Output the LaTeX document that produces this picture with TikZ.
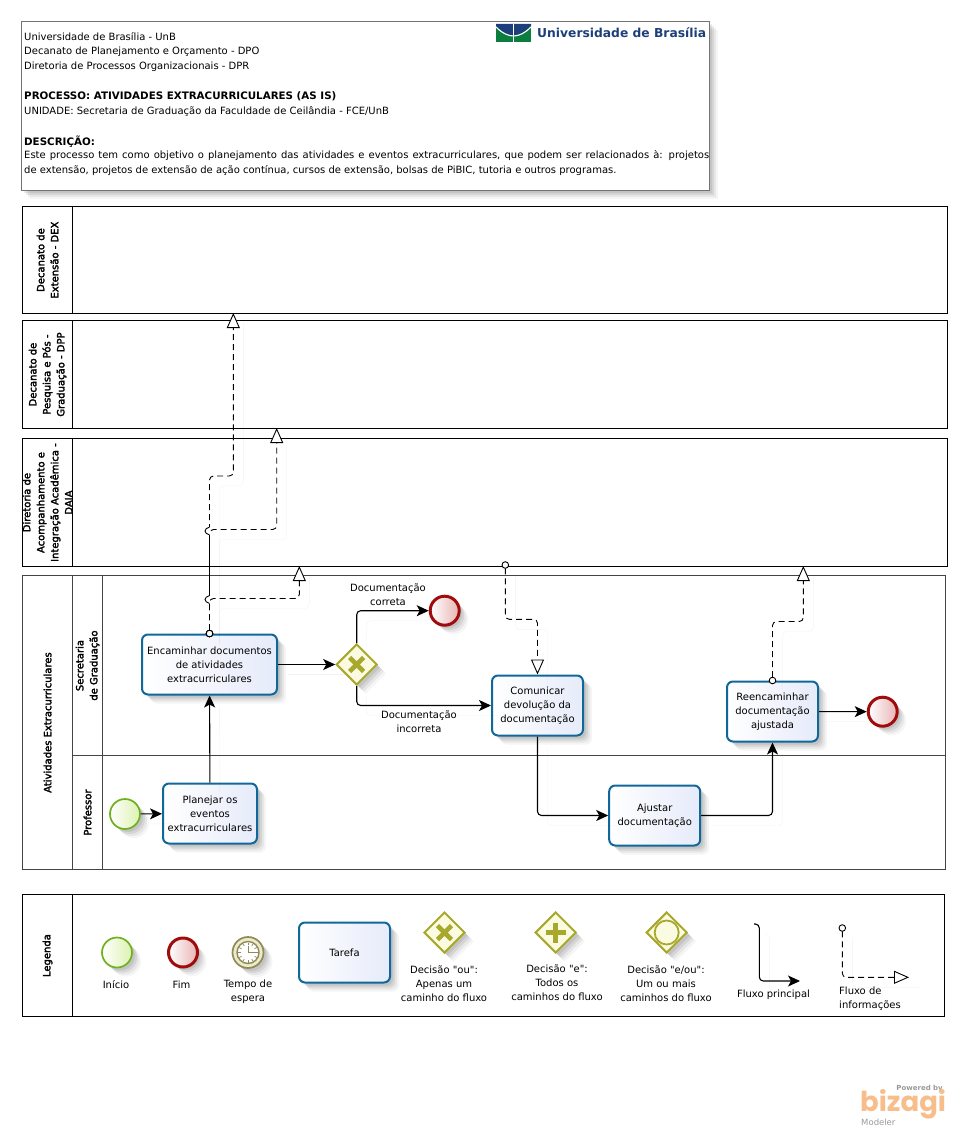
\documentclass[tikz,border=0pt]{standalone}
\usepackage{xcolor}
\usepackage{fontspec}
\setmainfont{DejaVu Sans}
\newfontfamily\plainfont{DejaVu Sans}
\newfontfamily\lanefont[FakeBold=2.5]{DejaVu Sans}
\newfontfamily\bizfont{Poppins}
\usepackage{tikz}
\usetikzlibrary{shapes.geometric}
\usetikzlibrary{arrows.meta}
\usetikzlibrary{shadows}
\definecolor{taskline}{HTML}{10689A}
\definecolor{taskfill}{HTML}{E6EBFA}
\definecolor{endline}{HTML}{A00C0C}
\definecolor{endfill}{HTML}{E8B4B4}
\definecolor{startline}{HTML}{6FB01E}
\definecolor{startfill}{HTML}{DCF2B0}
\definecolor{gateline}{HTML}{A8A82C}
\definecolor{gatefill}{HTML}{FBFBE2}
\definecolor{timerline}{HTML}{8F8B55}
\definecolor{timerfill}{HTML}{EDE9CC}
\definecolor{poolline}{HTML}{444444}
\definecolor{unbgreen}{HTML}{0B7D3E}
\definecolor{unbblue}{HTML}{1C3F7C}
\definecolor{bizorange}{HTML}{F7BE8C}
\tikzset{
  soft shadow/.style={
    general shadow={shadow xshift=9pt,shadow yshift=-9pt,fill=black,opacity=.04},
    general shadow={shadow xshift=7pt,shadow yshift=-7pt,fill=black,opacity=.06},
    general shadow={shadow xshift=5pt,shadow yshift=-5pt,fill=black,opacity=.08},
    general shadow={shadow xshift=3pt,shadow yshift=-3pt,fill=black,opacity=.08}},
  lane/.style={draw,line width=1.1pt,rectangle,inner sep=0pt,anchor=north west},
  lane label/.style={rotate=90,align=center,inner sep=0pt,font=\fontsize{10}{14}\lanefont},
  pool/.style={draw=poolline},
  task/.style={rectangle,rounded corners=6pt,draw=taskline,line width=2pt,left color=white,right color=taskfill,
    minimum width=#1,minimum height=60pt,inner sep=0pt,align=center,soft shadow,font=\fontsize{10}{14}\plainfont},
  task/.default=91pt,
  start event/.style={circle,draw=startline,line width=1.7pt,left color=white,right color=startfill,minimum size=30pt,inner sep=0pt,soft shadow},
  end event/.style={circle,draw=endline,line width=3pt,left color=white,right color=endfill,minimum size=29pt,inner sep=0pt,soft shadow},
  gate/.style={diamond,aspect=1,draw=gateline,line width=2pt,fill=gatefill,minimum size=41pt,inner sep=0pt,soft shadow},
  gate xor/.style={gate,path picture={\draw[gateline,line width=4.6pt]
    (path picture bounding box.center) +(-7,-7) -- +(7,7) +(-7,7) -- +(7,-7);}},
  gate and/.style={gate,path picture={\draw[gateline,line width=5pt]
    (path picture bounding box.center) +(-10,0) -- +(10,0) +(0,-10) -- +(0,10);}},
  gate or/.style={gate,path picture={\draw[gateline,line width=1.8pt]
    (path picture bounding box.center) circle (12pt);}},
  ghost/.style={preaction={draw=black,draw opacity=.05,solid,-,transform canvas={xshift=10pt,yshift=-10pt}}},
  seqflow/.style={line width=1.1pt,rounded corners=4pt,ghost,-{Stealth[length=12pt,width=11pt,inset=3pt]}},
  infoflow/.style={line width=.9pt,rounded corners=4pt,dash pattern=on 6pt off 4pt,ghost,
    {Circle[open,fill=white,length=7.5pt,line width=.9pt,sep=-3.75pt]}-{Triangle[open,fill=white,length=15pt,width=13pt,line width=.9pt]}},
  hop/.style={line width=.9pt},
  caption/.style={align=center,inner sep=0pt,font=\fontsize{10}{14}\plainfont},
  header/.style={font=\fontsize{10}{15}\selectfont,inner sep=0pt,anchor=west},
  header bold/.style={header,font=\fontsize{10.3}{15}\selectfont\bfseries}
}
\begin{document}
\begin{tikzpicture}[x=1pt,y=-1pt]
\useasboundingbox (0,0) rectangle (967,1137);

% cabecalho
\node[rectangle,draw=black!55,fill=white,line width=.8pt,minimum width=688pt,minimum height=169pt,anchor=north west,soft shadow] (hdr) at (21,21) {};
\node[header] (hdr1) at (24,36.5) {Universidade de Brasília - UnB};
\node[header] (hdr2) at (24,51.5) {Decanato de Planejamento e Orçamento - DPO};
\node[header] (hdr3) at (24,66.5) {Diretoria de Processos Organizacionais - DPR};
\node[header bold] (hdr4) at (24,96.5) {PROCESSO: ATIVIDADES EXTRACURRICULARES (AS IS)};
\node[header] (hdr5) at (24,111.5) {UNIDADE: Secretaria de Graduação da Faculdade de Ceilândia - FCE/UnB};
\node[header bold] (hdr6) at (24,141.5) {DESCRIÇÃO:};
\node[header,text width=685pt,align=justify,anchor=north west] (hdr7) at (24,150.5) {Este processo tem como objetivo o planejamento das atividades e eventos extracurriculares, que podem ser relacionados à: projetos\linebreak de extensão, projetos de extensão de ação contínua, cursos de extensão, bolsas de PiBIC, tutoria e outros programas.};

% logo
\fill[unbgreen] (496,24) rectangle (531,42);
\fill[unbblue] (496,24) -- (531,24) -- (531,26) .. controls (524,33) and (518,35) .. (513.5,35) .. controls (509,35) and (503,33) .. (496,26) -- cycle;
\draw[white,line width=1.1pt] (531,27) .. controls (524,34) and (518,36) .. (513.5,36) .. controls (509,36) and (503,34) .. (496,27);
\draw[white,line width=1.2pt] (513.5,24) -- (513.5,42);
\node[inner sep=0pt,anchor=west,text=unbblue,font=\fontsize{12.3}{14}\selectfont\bfseries] (unb) at (537,32.5) {Universidade de Brasília};

% raias
\node[lane,minimum width=50pt,minimum height=107pt] (dexh) at (22,206) {};
\node[lane,minimum width=875pt,minimum height=107pt] (dex) at (72,206) {};
\node[lane label] (dext) at (dexh.center) {Decanato de\\Extensão - DEX};
\node[lane,minimum width=50pt,minimum height=108pt] (dpph) at (22,320) {};
\node[lane,minimum width=875pt,minimum height=108pt] (dpp) at (72,320) {};
\node[lane label] (dppt) at (dpph.center) {Decanato de\\Pesquisa e Pós -\\Graduação - DPP};
\node[lane,minimum width=50pt,minimum height=128pt] (daiah) at (22,438) {};
\node[lane,minimum width=875pt,minimum height=128pt] (daia) at (72,438) {};
\node[lane label] (daiat) at (daiah.center) {Diretoria de\\Acompanhamento e\\Integração Acadêmica -\\DAIA};

\node[lane,pool,minimum width=50pt,minimum height=294pt] (atih) at (22,575) {};
\node[lane,pool,minimum width=30pt,minimum height=180pt] (sech) at (72,575) {};
\node[lane,pool,minimum width=30pt,minimum height=114pt] (profh) at (72,755) {};
\node[lane,pool,minimum width=843pt,minimum height=180pt] (sec) at (102,575) {};
\node[lane,pool,minimum width=843pt,minimum height=114pt] (prof) at (102,755) {};
\node[lane label] (atit) at (atih.center) {Atividades Extracurriculares};
\node[lane label] (sect) at (sech.center) {Secretaria\\de Graduação};
\node[lane label] (proft) at (profh.center) {Professor};

\node[lane,minimum width=50pt,minimum height=122pt] (legh) at (22,894) {};
\node[lane,minimum width=872pt,minimum height=122pt] (leg) at (72,894) {};
\node[lane label] (legt) at (legh.center) {Legenda};

% processo
\node[start event] (ini) at (125,814) {};
\node[task=94pt] (plan) at (210,813.5) {Planejar os\\eventos\\extracurriculares};
\node[task=135pt] (enc) at (209.5,664.5) {Encaminhar documentos\\de atividades\\extracurriculares};
\node[gate xor] (dec) at (356.7,664.5) {};
\node[end event] (fim1) at (444.7,610.7) {};
\node[task] (com) at (537.5,705.5) {Comunicar\\devolução da\\documentação};
\node[task] (aju) at (654.7,815.5) {Ajustar\\documentação};
\node[task] (ree) at (772.5,711.5) {Reencaminhar\\documentação\\ajustada};
\node[end event] (fim2) at (882.7,711.7) {};
\node[caption] (cor) at (388,595) {Documentação\\correta};
\node[caption] (inc) at (419,722) {Documentação\\incorreta};

\draw[seqflow] (ini) -- (plan);
\draw[seqflow] (plan) -- (enc);
\draw[seqflow] (enc) -- (dec);
\draw[seqflow] (dec.north) |- (fim1);
\draw[seqflow] (dec.south) |- (com);
\draw[seqflow] (com.south) |- (aju);
\draw[seqflow] (aju) -| (ree.south);
\draw[seqflow] (ree) -- (fim2);

% fluxos de informacao
\coordinate (dexin) at (233.3,313);
\coordinate (dppin) at (276.7,428);
\coordinate (secin) at (299.3,566);
\coordinate (msg) at (505.3,565);
\coordinate (reein) at (803.3,566);
\coordinate (hopa) at (209.5,531);
\coordinate (hopb) at (209.5,599.5);
\draw[infoflow] (enc.north) -- ++(0,-157.5) -| (dexin);
\draw[infoflow] (enc.north) -- ++(0,-104) -| (dppin);
\draw[infoflow] (enc.north) -- ++(0,-35) -| (secin);
\draw[infoflow] (msg) -- ++(0,54.3) -| (com.north);
\draw[infoflow] (ree.north) -- ++(0,-59) -| (reein);
\draw[hop] (hopa) -- (hopb);
\foreach \h in {hopa,hopb}{
  \draw[white,line width=1.6pt] (\h) +(0,-4) -- +(0,4);
  \draw[hop] (\h) ++(0,4) .. controls +(-6,-2) and +(-6,2) .. ++(0,-8);
}

% legenda
\node[start event] (lini) at (117,952.5) {};
\node[end event] (lfim) at (183,952.5) {};
\node[circle,draw=timerline,line width=1.7pt,fill=timerfill,minimum size=31pt,inner sep=0pt,soft shadow] (ltem) at (248,952.5) {};
\node[circle,draw=timerline,line width=1.4pt,fill=white,minimum size=22pt,inner sep=0pt] (lrel) at (248,952.5) {};
\foreach \a in {0,30,...,330}
  \draw[timerline,line width=.7pt] (lrel.center) ++(\a:7.5) -- ++(\a:2.5);
\draw[timerline,line width=.9pt] (lrel.center) ++(0,-7) -- (lrel.center) -- ++(9,0);
\node[task=91pt] (ltar) at (344.5,952.5) {Tarefa};
\node[gate xor] (lxor) at (444.5,932.5) {};
\node[gate and] (land) at (555.7,932.5) {};
\node[gate or] (lor) at (666.7,932.5) {};
\node[caption] (tini) at (116,985) {Início};
\node[caption] (tfim) at (181.5,985) {Fim};
\node[caption] (ttem) at (248,992) {Tempo de\\espera};
\node[caption] (txor) at (444,984) {Decisão "ou":\\Apenas um\\caminho do fluxo};
\node[caption] (tand) at (557,983) {Decisão "e":\\Todos os\\caminhos do fluxo};
\node[caption] (tor) at (666,984) {Decisão "e/ou":\\Um ou mais\\caminhos do fluxo};
\node[caption] (tseq) at (773.5,995) {Fluxo principal};
\node[caption,align=left] (tinf) at (870,999) {Fluxo de\\informações};
\coordinate (seqa) at (754,924);
\coordinate (seqb) at (800,981);
\coordinate (seqc) at (759.3,981);
\draw[seqflow] (seqa) -| (seqc) -- (seqb);
\coordinate (infa) at (842.3,928);
\coordinate (infb) at (909,977.3);
\draw[infoflow] (infa) |- (infb);

% bizagi
\node[inner sep=0pt,anchor=east,text=black!40,font=\fontsize{7}{8}\selectfont\bfseries] (pow) at (943,1089) {Powered by};
\node[inner sep=0pt,anchor=west,text=bizorange,font=\fontsize{27.5}{30}\bizfont\bfseries] (biz) at (860,1104) {bizagi};
\node[inner sep=0pt,anchor=west,text=black!40,font=\fontsize{8.5}{9}\selectfont] (mod) at (861,1122.5) {Modeler};
\end{tikzpicture}
\end{document}
